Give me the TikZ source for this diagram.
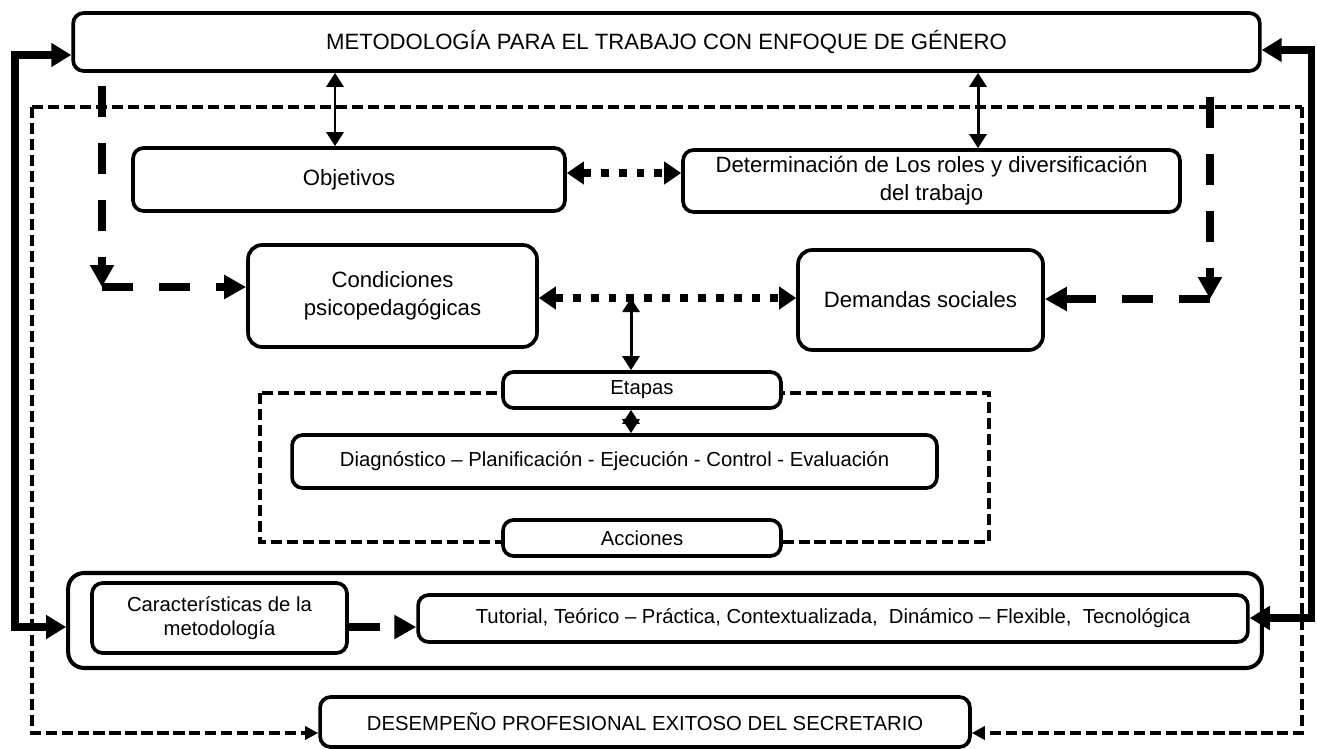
\documentclass[tikz,border=0pt]{standalone}
\usepackage{fontspec}
\setmainfont{Liberation Sans}
\usetikzlibrary{arrows.meta}

\tikzset{
  caja/.style={draw,line width=2.1pt,rounded corners=6pt,inner sep=0pt,align=center},
  med/.style 2 args={minimum width=#1*0.569pt,minimum height=#2*0.569pt},
  grande/.style={font=\fontsize{12.6}{16}\selectfont},
  chica/.style={font=\fontsize{11.55}{13.7}\selectfont},
  grueso/.style={line width=4pt,{Triangle[length=11.4pt,width=13pt]}-{Triangle[length=11.4pt,width=13pt]}},
  gdash/.style={line width=4.5pt,dash pattern=on 17.6pt off 14.8pt,-{Triangle[length=12.5pt,width=13pt]}},
  punteado/.style={line width=4.5pt,dash pattern=on 4.5pt off 5.7pt,{Triangle[length=9.7pt,width=12.5pt]}-{Triangle[length=9.7pt,width=12.5pt]}},
  doble/.style={line width=1.7pt,{Triangle[length=8pt,width=9.7pt]}-{Triangle[length=8pt,width=9.7pt]}},
  fino/.style={line width=1.8pt,dash pattern=on 6.3pt off 2.8pt},
  finoflecha/.style={fino,-{Triangle[length=7.5pt,width=7.5pt]}}
}

\begin{document}
\begin{tikzpicture}[x=0.02cm,y=-0.02cm]
\useasboundingbox (0,0) rectangle (1317,749);
\node[caja,grande,med={1187}{58}] (met) at (666.5,42) {METODOLOGÍA PARA EL TRABAJO CON ENFOQUE DE GÉNERO};
\node[caja,grande,med={432}{63}] (obj) at (349,179.5) {Objetivos};
\node[caja,grande,med={497}{62}] (det) at (931.5,181) {Determinación de Los roles y diversificación\\del trabajo};
\node[caja,grande,rounded corners=8pt,med={289}{102}] (cond) at (392.5,296) {Condiciones\\psicopedagógicas};
\node[caja,grande,rounded corners=8pt,med={245}{100}] (dem) at (920.5,300) {Demandas sociales};
\draw[fino] (260,393) rectangle (989,542);
\node[caja,chica,fill=white,med={278}{36}] (eta) at (642,390) {Etapas};
\node[caja,chica,med={645}{53}] (diag) at (614.5,461.5) {Diagnóstico – Planificación - Ejecución - Control - Evaluación};
\node[caja,chica,fill=white,med={278}{36}] (acc) at (642,538) {Acciones};
\node[caja,line width=2.3pt,rounded corners=9pt,med={1194}{95}] (marco) at (665,620.5) {};
\node[caja,chica,med={255}{70}] (car) at (219.5,618) {Características de la\\metodología};
\node[caja,chica,med={830}{47}] (tut) at (833,618.5) {Tutorial, Teórico – Práctica, Contextualizada,\ \ Dinámico – Flexible,\ \ Tecnológica};
\node[caja,chica,med={650}{50}] (des) at (645,722) {DESEMPEÑO PROFESIONAL EXITOSO DEL SECRETARIO};

\coordinate (esqi) at (102,287);
\coordinate (esqd) at (1210,299);
\coordinate (cruce) at (631,298);

\draw[fino] (32,107) -- (1302,107);
\draw[finoflecha] (32,107) |- (des.west |- 0,733);
\draw[finoflecha] (1302,107) |- (des.east |- 0,733);

\draw[grueso] (marco.west |- 0,627) -- (15,627) -- (15,55) -- (met.west |- 0,55);
\draw[grueso] (tut.east |- 0,618) -- (1311,618) -- (1311,50) -- (met.east |- 0,50);

\draw[gdash] (esqi |- 0,86) -- (esqi);
\draw[gdash] (esqi) -- (cond.west |- esqi);
\draw[gdash] (esqd |- 0,97) -- (esqd);
\draw[gdash] (esqd) -- (dem.east |- esqd);
\draw[gdash] (car.east |- 0,627) -- (tut.west |- 0,627);

\draw[punteado] (obj.east |- 0,173) -- (det.west |- 0,173);
\draw[punteado] (cond.east |- cruce) -- (dem.west |- cruce);

\draw[doble] (met.south -| 335,0) -- (obj.north -| 335,0);
\draw[doble] (met.south -| 978,0) -- (det.north -| 978,0);
\draw[doble] (cruce) -- (eta.north -| cruce);
\draw[doble] (eta.south -| cruce) -- (diag.north -| cruce);
\end{tikzpicture}
\end{document}
